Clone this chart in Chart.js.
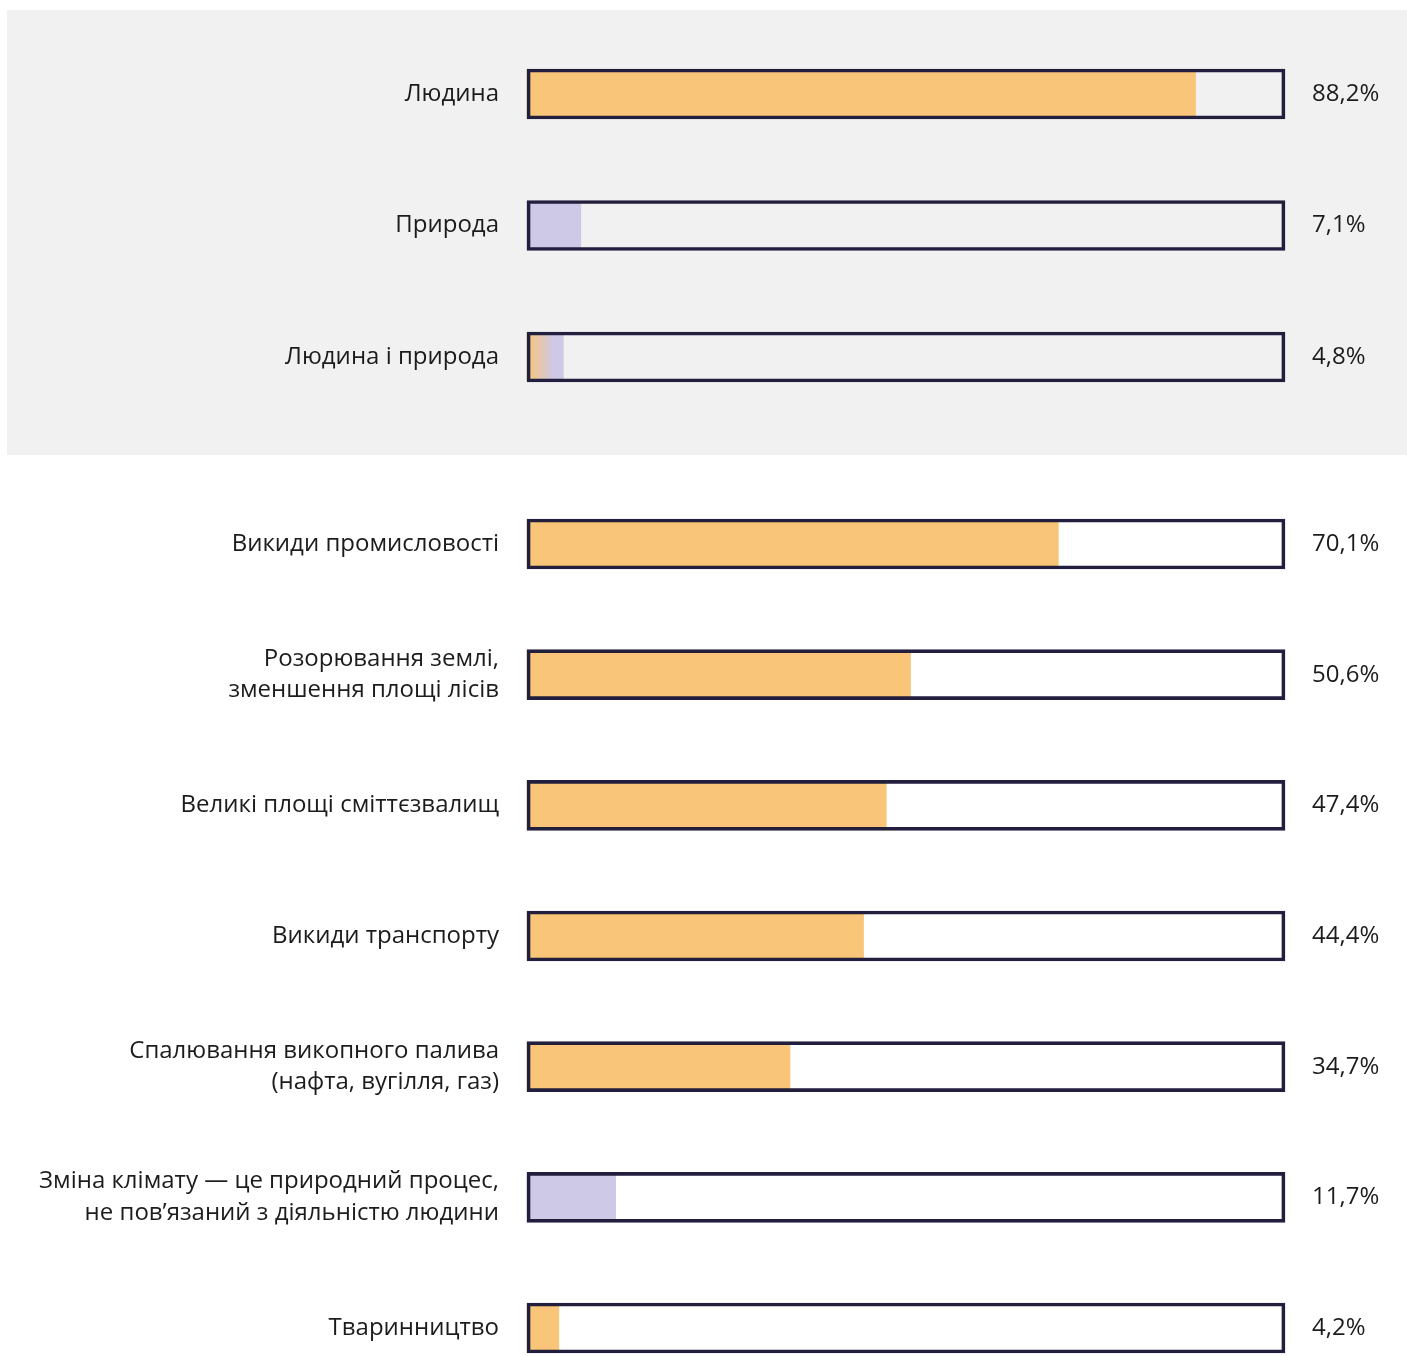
<!DOCTYPE html>
<html>
<head>
<meta charset="utf-8">
<script src="https://cdn.jsdelivr.net/npm/chart.js@4"></script>
<style>
  body { margin: 0; background: #fff; }
  #wrap { position: relative; width: 1407px; height: 1356px; }
  #panel { position: absolute; left: 7px; top: 10px; width: 1400px; height: 445px; background: #f1f1f1; }
  canvas { position: absolute; left: 0; }
  #top { top: 0; }
  #bottom { top: 455px; }
</style>
</head>
<body>
<div id="wrap">
  <div id="panel"></div>
  <canvas id="top" width="1407" height="455"></canvas>
  <canvas id="bottom" width="1407" height="901"></canvas>
</div>
<script>
// верхній блок: хто спричиняє зміну клімату
const topCategories = ['Людина', 'Природа', 'Людина і природа'];
const topValues = [88.2, 7.1, 4.8];
const topKinds = ['human', 'nature', 'both'];

// нижній блок: причини
const bottomCategories = [
	'Викиди промисловості',
	['Розорювання землі,', 'зменшення площі лісів'],
	'Великі площі сміттєзвалищ',
	'Викиди транспорту',
	['Спалювання викопного палива', '(нафта, вугілля, газ)'],
	['Зміна клімату — це природний процес,', 'не пов’язаний з діяльністю людини'],
	'Тваринництво'
];
const bottomValues = [70.1, 50.6, 47.4, 44.4, 34.7, 11.7, 4.2];
const bottomKinds = ['human', 'human', 'human', 'human', 'human', 'nature', 'human'];

const ORANGE = '#f9c679';
const LAVENDER = '#cdc9e7';
const OUTLINE = '#221e3d';
const TEXT = '#1c1c1c';
const FONT = { family: 'Open Sans', size: 24 };

const fmt = (v) => v.toFixed(1).replace('.', ',') + '%';

function noPad(s, w) {
	s.width = w;
	s.paddingTop = 0;
	s.paddingBottom = 0;
}

function makeChart(id, cats, vals, kinds, pad) {
	const ctx = document.getElementById(id).getContext('2d');
	return new Chart(ctx, {
		type: 'bar',
		data: {
			labels: cats,
			datasets: [
				{
					// рамка
					data: cats.map(() => 100),
					backgroundColor: 'rgba(0,0,0,0)',
					borderColor: OUTLINE,
					borderWidth: 3,
					borderSkipped: false,
					barThickness: 50,
					grouped: false,
					clip: false
				},
				{
					data: vals,
					backgroundColor: (c) => {
						const kind = kinds[c.dataIndex];
						if (kind === 'nature') return LAVENDER;
						if (kind === 'both') {
							const chart = c.chart;
							if (!chart.chartArea) return ORANGE;
							const xs = chart.scales.x;
							const g = chart.ctx.createLinearGradient(xs.getPixelForValue(0), 0, xs.getPixelForValue(vals[c.dataIndex]), 0);
							g.addColorStop(0, ORANGE);
							g.addColorStop(0.75, LAVENDER);
							g.addColorStop(1, LAVENDER);
							return g;
						}
						return ORANGE;
					},
					borderWidth: 0,
					barThickness: 48,
					grouped: false,
					clip: false
				}
			]
		},
		options: {
			indexAxis: 'y',
			responsive: false,
			animation: false,
			devicePixelRatio: 1,
			layout: { padding: { top: pad[0], bottom: pad[1], left: 0, right: 0 } },
			plugins: { legend: { display: false }, tooltip: { enabled: false } },
			scales: {
				x: { min: 0, max: 100, display: false },
				y: {
					position: 'left',
					offset: false,
					grid: { display: false, drawTicks: false },
					border: { display: false },
					ticks: { padding: 28, color: TEXT, font: { ...FONT, lineHeight: 1.33 } },
					afterFit: (s) => noPad(s, 527)
				},
				y2: {
					type: 'category',
					position: 'right',
					offset: false,
					labels: vals.map(fmt),
					grid: { display: false, drawTicks: false },
					border: { display: false },
					ticks: { padding: 27, color: TEXT, font: FONT },
					afterFit: (s) => noPad(s, 122)
				}
			}
		}
	});
}

makeChart('top', topCategories, topValues, topKinds, [94, 98]);
makeChart('bottom', bottomCategories, bottomValues, bottomKinds, [89, 28]);
</script>
</body>
</html>
